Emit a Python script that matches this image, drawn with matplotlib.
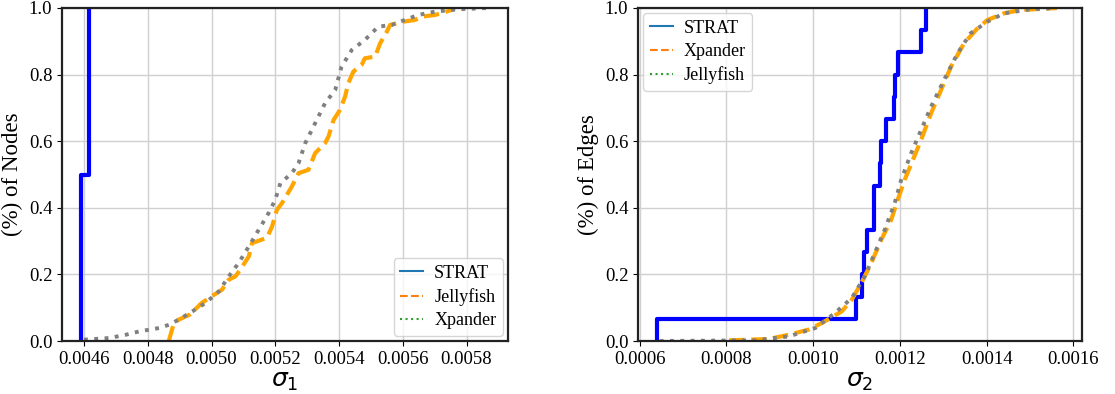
import matplotlib
matplotlib.use('Agg')
from matplotlib import pyplot as plt
from matplotlib.lines import Line2D
from matplotlib.ticker import FormatStrFormatter

# sigma_1 distribution over nodes
nodes_strat_x = [0.004592, 0.004615]
nodes_jelly_x = [0.004866, 0.004882, 0.004897, 0.004933, 0.004948, 0.004969, 0.005000, 0.005033,
                 0.005054, 0.005075, 0.005090, 0.005117, 0.005127, 0.005174, 0.005190, 0.005205,
                 0.005221, 0.005252, 0.005273, 0.005304, 0.005325, 0.005356, 0.005367, 0.005383,
                 0.005403, 0.005419, 0.005429, 0.005445, 0.005471, 0.005481, 0.005513, 0.005529,
                 0.005550, 0.005560, 0.005602, 0.005638, 0.005659, 0.005700, 0.005721, 0.005752,
                 0.005763]
nodes_jelly_y = [0.0, 0.054, 0.064, 0.080, 0.094, 0.114, 0.134, 0.154,
                 0.184, 0.194, 0.214, 0.254, 0.294, 0.310, 0.344, 0.394,
                 0.414, 0.464, 0.504, 0.514, 0.564, 0.594, 0.614, 0.664,
                 0.694, 0.734, 0.774, 0.809, 0.829, 0.849, 0.854, 0.894,
                 0.929, 0.949, 0.959, 0.964, 0.974, 0.979, 0.984, 0.994,
                 1.0]
nodes_xpander_x = [0.004600, 0.004680, 0.004732, 0.004774, 0.004836, 0.004867, 0.004897, 0.004940,
                   0.004981, 0.005023, 0.005054, 0.005085, 0.005117, 0.005148, 0.005179, 0.005200,
                   0.005216, 0.005252, 0.005273, 0.005294, 0.005325, 0.005356, 0.005388, 0.005408,
                   0.005440, 0.005481, 0.005523, 0.005565, 0.005606, 0.005648, 0.005700, 0.005773,
                   0.005867]
nodes_xpander_y = [0.004, 0.009, 0.019, 0.029, 0.039, 0.049, 0.064, 0.089,
                   0.114, 0.149, 0.194, 0.234, 0.284, 0.334, 0.384, 0.424,
                   0.474, 0.504, 0.534, 0.594, 0.654, 0.714, 0.754, 0.824,
                   0.874, 0.904, 0.944, 0.949, 0.964, 0.979, 0.989, 0.996,
                   1.0]

# sigma_2 distribution over edges
edges_strat_x = [0.000640, 0.0010977, 0.0011136, 0.0011167, 0.001125, 0.0011394, 0.0011394,
                 0.001153, 0.0011553, 0.001168, 0.0011856, 0.001189, 0.0011947, 0.001249, 0.0012606]
edges_xpander_x = [0.000806, 0.000898, 0.000944, 0.000989, 0.001020, 0.001066, 0.001089, 0.001111,
                   0.001134, 0.001157, 0.001180, 0.001195, 0.001211, 0.001230, 0.001249, 0.001272,
                   0.001295, 0.001318, 0.001348, 0.001379, 0.001402, 0.001440, 0.001478, 0.001562]
edges_xpander_y = [0.002, 0.006, 0.019, 0.034, 0.054, 0.089, 0.124, 0.174,
                   0.234, 0.304, 0.364, 0.424, 0.484, 0.544, 0.604, 0.684,
                   0.754, 0.824, 0.894, 0.939, 0.964, 0.984, 0.994, 1.0]
edges_jelly_x = [0.000646, 0.000867, 0.000944, 0.001005, 0.001050, 0.001089, 0.001119, 0.001142,
                 0.001165, 0.001188, 0.001203, 0.001226, 0.001249, 0.001272, 0.001302, 0.001333,
                 0.001363, 0.001402, 0.001440, 0.001501, 0.001562]
edges_jelly_y = [0.0, 0.002, 0.014, 0.039, 0.084, 0.129, 0.194, 0.264,
                 0.334, 0.414, 0.484, 0.564, 0.634, 0.704, 0.784, 0.864,
                 0.924, 0.959, 0.984, 0.996, 1.0]


def ecdf_steps(values):
    n = len(values)
    xs = [values[0]] + list(values)
    ys = [0.0] + [(i + 1) / n for i in range(n)]
    return xs, ys


def style_axis(ax, xlim, ticks, ylabel, xlabel):
    ax.set_xlim(*xlim)
    ax.set_ylim(0, 1)
    ax.set_xticks(ticks)
    ax.xaxis.set_major_formatter(FormatStrFormatter('%.4f'))
    ax.set_yticks([0, 0.2, 0.4, 0.6, 0.8, 1.0])
    ax.yaxis.set_major_formatter(FormatStrFormatter('%.1f'))
    ax.tick_params(labelsize=13.5)
    for lab in ax.get_xticklabels() + ax.get_yticklabels():
        lab.set_fontfamily('Liberation Serif')
    ax.grid(True, color='#d0d0d0', linewidth=1)
    ax.set_axisbelow(True)
    for sp in ax.spines.values():
        sp.set_linewidth(1.6)
        sp.set_color('#222222')
    ax.set_ylabel(ylabel, fontsize=16.5, family='Liberation Serif')
    ax.set_xlabel(xlabel, fontsize=18, labelpad=1)


def add_legend(ax, labels, loc):
    handles = [Line2D([], [], color='C0', lw=1.5), Line2D([], [], color='C1', lw=1.5, ls='--'),
               Line2D([], [], color='C2', lw=1.5, ls=':')]
    ax.legend(handles, labels, loc=loc, prop={'family': 'Liberation Serif', 'size': 13},
              handlelength=1.3, handletextpad=0.6, borderaxespad=0.3, borderpad=0.35,
              labelspacing=0.35)


fig = plt.figure(figsize=(11.15, 3.94), dpi=100)
ax1 = fig.add_axes([0.0556, 0.1345, 0.4, 0.8452])
ax2 = fig.add_axes([0.5722, 0.1345, 0.3982, 0.8452])

# left: sigma_1
sx, sy = ecdf_steps(nodes_strat_x)
ax1.plot(sx, sy, drawstyle='steps-post', color='blue', linewidth=3)
ax1.plot(nodes_jelly_x, nodes_jelly_y, color='orange', linestyle='--', linewidth=3)
ax1.plot(nodes_xpander_x, nodes_xpander_y, color='gray', linestyle=':', linewidth=2.8)
style_axis(ax1, (0.004531, 0.005930), [0.0046 + 0.0002 * i for i in range(7)],
           '(%) of Nodes', r'$\sigma_1$')
add_legend(ax1, ['STRAT', 'Jellyfish', 'Xpander'], 'lower right')

# right: sigma_2
sx, sy = ecdf_steps(edges_strat_x)
ax2.plot(sx, sy, drawstyle='steps-post', color='blue', linewidth=3)
ax2.plot(edges_xpander_x, edges_xpander_y, color='orange', linestyle='--', linewidth=3)
ax2.plot(edges_jelly_x, edges_jelly_y, color='gray', linestyle=':', linewidth=2.8)
style_axis(ax2, (0.000596, 0.001620), [0.0006 + 0.0002 * i for i in range(6)],
           '(%) of Edges', r'$\sigma_2$')
add_legend(ax2, ['STRAT', 'Xpander', 'Jellyfish'], 'upper left')

fig.savefig('out.png', dpi=100)
